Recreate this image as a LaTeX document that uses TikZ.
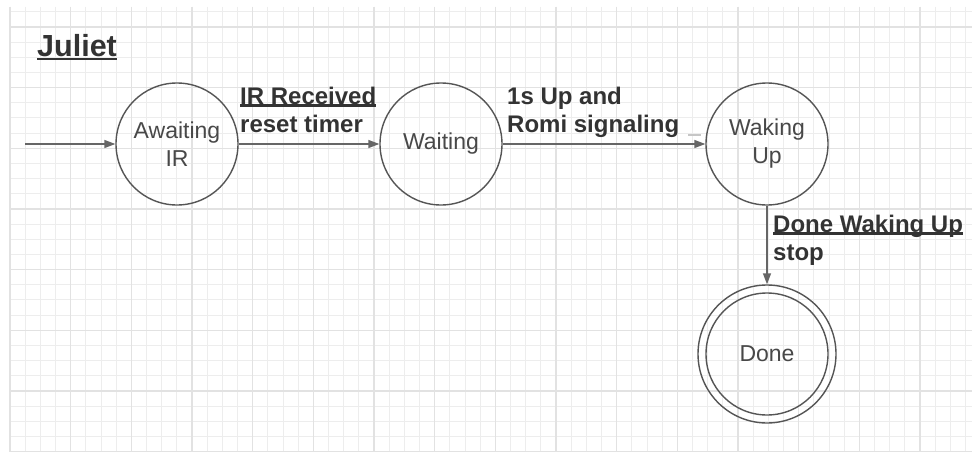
\documentclass[tikz,border=0pt]{standalone}
\usepackage{fontspec}
\setmainfont{Liberation Sans}
\usepackage{tikz}
\usetikzlibrary{arrows.meta}

\definecolor{gridminor}{HTML}{EDEDED}
\definecolor{gridmajor}{HTML}{E2E2E2}
\definecolor{inkline}{HTML}{666666}
\definecolor{inkstate}{HTML}{555555}
\definecolor{inktext}{HTML}{333333}

\newcommand{\ulb}[1]{\setbox0=\hbox{#1}\rlap{\rule[-0.11em]{\wd0}{0.09em}}\box0}

\begin{document}
\begin{tikzpicture}[x=1pt, y=-1pt,
  state/.style={circle, draw=inkstate, line width=1.4pt, minimum size=122pt, inner sep=0pt,
    align=center, text=inkstate!85!black, font=\fontsize{23}{28}\selectfont},
  trans/.style={draw=inkline, line width=1.4pt, -{Triangle[length=11pt,width=8pt]}},
  lbl/.style={inner sep=0pt, align=left, text=inktext, font=\fontsize{24}{28}\selectfont\bfseries},
  minor/.style={draw=gridminor, line width=1pt},
  major/.style={draw=gridmajor, line width=1.5pt}]

% page and grid paper
\fill[white] (0,0) rectangle (972,452);
\useasboundingbox (0,0) rectangle (972,452);
\foreach \i in {0,...,63}
  \draw[minor] ({10+15.1667*\i},7) -- ({10+15.1667*\i},452);
\foreach \j in {0,...,29}
  \draw[minor] (10,{11.83+15.1667*\j}) -- (972,{11.83+15.1667*\j});
\foreach \i in {0,...,15}
  \draw[major] ({10+60.667*\i},7) -- ({10+60.667*\i},452);
\foreach \j in {0,...,7}
  \draw[major] (10,{27+60.667*\j}) -- (972,{27+60.667*\j});

% title
\node[inner sep=0pt, anchor=base west, text=inktext, font=\fontsize{30.5}{34}\selectfont\bfseries]
  (title) at (37,57) {\ulb{Juliet}};

% states
\node[state] (awaiting) at (177,144) {Awaiting\\IR};
\node[state] (waiting) at (441,144) {Waiting};
\node[state] (wakingup) at (767,144) {Waking\\Up};
\node[state, minimum size=138pt] (done) at (767,354) {Done};
\draw[inkstate, line width=1.4pt] (done.center) circle[radius=61pt];

% transitions
\coordinate (entry) at (25,144);
\draw[trans] (entry) -- (awaiting);
\draw[trans] (awaiting) -- (waiting);
\draw[trans] (waiting) -- (wakingup);
\draw[trans] (wakingup) -- (done);
\draw[gray!45, line width=1.5pt] (688,135) -- (701,135);

% transition labels (base = last line)
\node[lbl, anchor=base west] (irlbl) at (240,132) {\ulb{IR Received}\\reset timer};
\node[lbl, anchor=base west] (romilbl) at (507,132) {1s Up and\\Romi signaling};
\node[lbl, anchor=base west] (donelbl) at (773,260) {\ulb{Done Waking Up}\\stop};
\end{tikzpicture}
\end{document}
